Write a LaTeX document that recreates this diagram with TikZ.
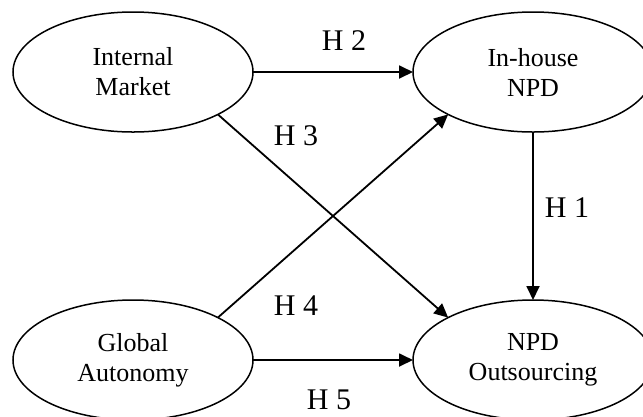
\documentclass[tikz,border=0pt]{standalone}
\usepackage{fontspec}
\setmainfont{Liberation Serif}
\usetikzlibrary{shapes.geometric,arrows.meta}

\begin{document}
\begin{tikzpicture}[x=1bp, y=-1bp,
    construct/.style={draw, ellipse, line width=1.5bp, minimum width=240bp, minimum height=120bp,
      inner sep=0, outer sep=0, align=center, font=\fontsize{26bp}{30bp}\selectfont},
    hyp/.style={font=\fontsize{30bp}{34bp}\selectfont, inner sep=0},
    link/.style={-{Triangle[length=14bp,width=13bp]}, line width=1.8bp}]
  \useasboundingbox (0,0) rectangle (643,416);
  \clip (0,0) rectangle (643,416);

    \node [construct] (market) at (133,72) {Internal\\Market};
    \node [construct] (inhouse) at (533,72) {In-house\\NPD};
    \node [construct] (autonomy) at (133,360) {Global\\Autonomy};
    \node [construct] (outsourcing) at (533,360) {NPD\\Outsourcing};

    \draw [link] (market.east) -- (inhouse.west);
    \draw [link] (market.south east) -- (outsourcing.north west);
    \draw [link] (inhouse.south) -- (outsourcing.north);
    \draw [link] (autonomy.north east) -- (inhouse.south west);
    \draw [link] (autonomy.east) -- (outsourcing.west);

    \node [hyp] (h1) at (567,208) {H 1};
    \node [hyp] (h2) at (344,41) {H 2};
    \node [hyp] (h3) at (296,136) {H 3};
    \node [hyp] (h4) at (296,306) {H 4};
    \node [hyp] (h5) at (329,400) {H 5};
\end{tikzpicture}
\end{document}
